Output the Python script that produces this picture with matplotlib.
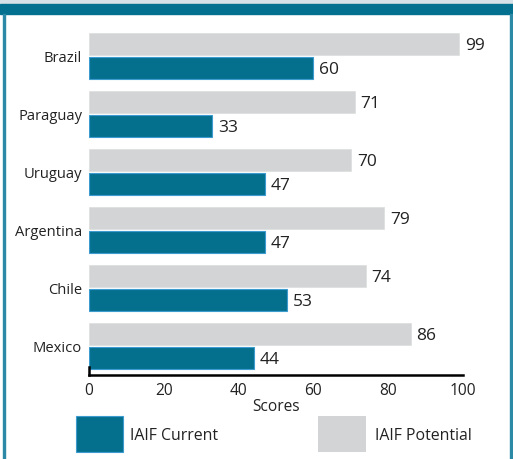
import numpy as np
import matplotlib.pyplot as plt
from matplotlib.patches import Rectangle

plt.rcParams['font.family'] = ['Open Sans', 'DejaVu Sans']

# данные
countries = ['Brazil', 'Paraguay', 'Uruguay', 'Argentina', 'Chile', 'Mexico']
current = [60, 33, 47, 47, 53, 44]
potential = [99, 71, 70, 79, 74, 86]

teal = '#04708e'
grey = '#d3d4d5'

W, H = 513, 460
fig = plt.figure(figsize=(W / 100, H / 100), dpi=100)

# рамка и шапка
fig.patches.append(Rectangle((0, 1 - 5 / H), 1, 5 / H, transform=fig.transFigure,
                             color='#d6e2e7', zorder=0))
fig.patches.append(Rectangle((0, 1 - 15 / H), 1, 10 / H, transform=fig.transFigure,
                             color='#037090', zorder=0))
fig.patches.append(Rectangle((3 / W, 0), 2 / W, 1 - 15 / H, transform=fig.transFigure,
                             color='#2c8aa6', zorder=0))
fig.patches.append(Rectangle((510 / W, 0), 3 / W, 1 - 15 / H, transform=fig.transFigure,
                             color='#2c8aa6', zorder=0))

ax = fig.add_axes([89 / W, (H - 376) / H, (463 - 89) / W, (376 - 22) / H])
y = np.arange(len(countries))
h = 0.38
ax.barh(y - 0.207, potential, height=h, color=grey, edgecolor='#dcdddd', linewidth=0.5)
ax.barh(y + 0.207, current, height=h, color=teal, edgecolor='#3d9bd0', linewidth=0.8)

for i in range(len(countries)):
    ax.text(potential[i] + 1.6, y[i] - 0.19, str(potential[i]), va='center', ha='left',
            fontsize=12.5, color='#222222')
    ax.text(current[i] + 1.6, y[i] + 0.23, str(current[i]), va='center', ha='left',
            fontsize=12.5, color='#222222')

ax.set_xlim(0, 100)
ax.set_ylim(5.5, -0.603)
ax.set_yticks(y)
ax.set_yticklabels(countries, color='#222222')
ax.set_xticks([0, 20, 40, 60, 80, 100])
ax.tick_params(axis='x', length=0, pad=5, labelsize=11.2, labelcolor='#222222')
ax.tick_params(axis='y', length=0, pad=5, labelsize=10.6)
for s in ['top', 'right']:
    ax.spines[s].set_visible(False)
ax.spines['bottom'].set_linewidth(1.8)
ax.spines['left'].set_linewidth(1.8)
ax.spines['left'].set_bounds(5.36, 5.5)
ax.set_xlabel('Scores', fontsize=11.2, labelpad=0, color='#222222')

# легенда
fig.patches.append(Rectangle((76 / W, (H - 453) / H), 47 / W, 36 / H,
                             transform=fig.transFigure, facecolor=teal,
                             edgecolor='#3d9bd0', linewidth=0.8))
fig.text(130 / W, (H - 436) / H, 'IAIF Current', fontsize=11.4, va='center', color='#222222')
fig.patches.append(Rectangle((318 / W, (H - 453) / H), 48 / W, 36 / H,
                             transform=fig.transFigure, facecolor=grey, edgecolor='none'))
fig.text(375 / W, (H - 436) / H, 'IAIF Potential', fontsize=11.4, va='center', color='#222222')

fig.savefig('out.png', dpi=100)
